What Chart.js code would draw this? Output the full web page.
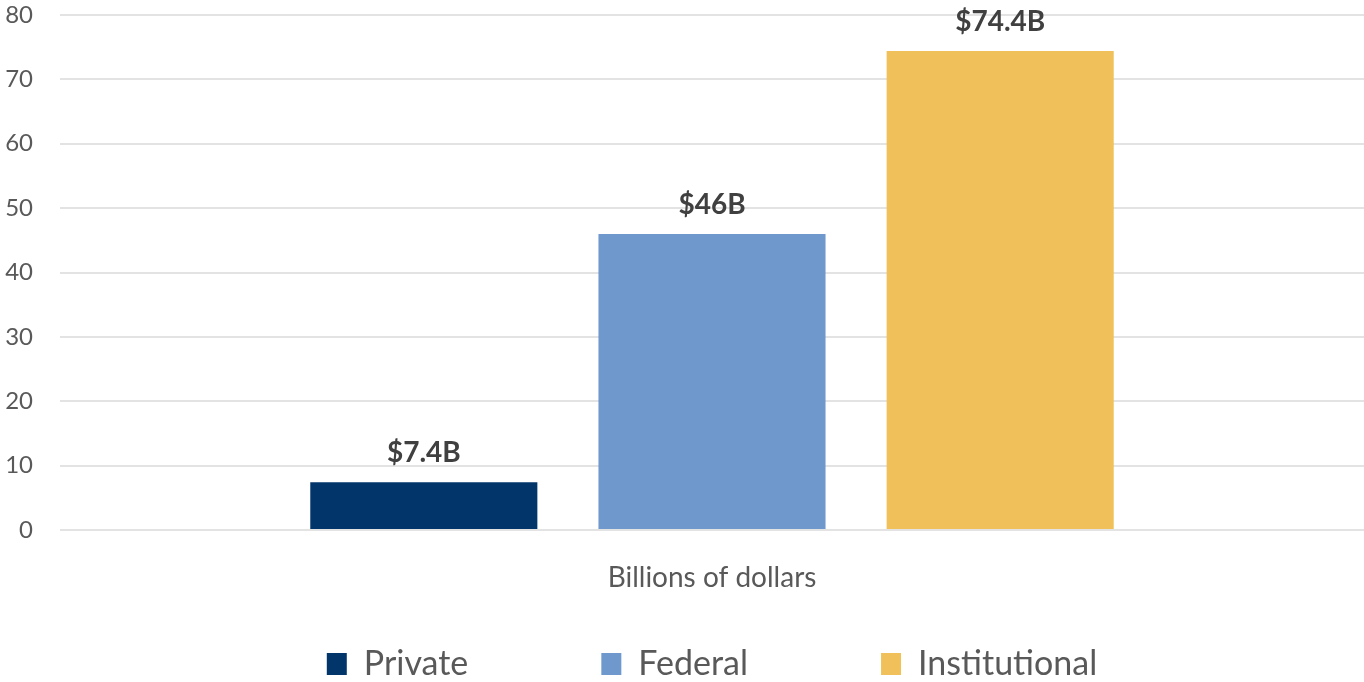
<!DOCTYPE html>
<html lang="en">
<head>
  <meta charset="UTF-8">
  <title>Billions of dollars</title>
  <script src="https://cdn.jsdelivr.net/npm/chart.js"></script>
  <style>
    html, body { margin: 0; padding: 0; background: #fff; }
    .wrap { width: 1364px; height: 682px; position: relative; }
  </style>
</head>
<body>
  <div class="wrap">
    <canvas id="fundingChart"></canvas>
  </div>
  <script>
    // chart data
    const categories = ['Billions of dollars'];
    const seriesNames = ['Private', 'Federal', 'Institutional'];
    const privateValues = [7.4];
    const federalValues = [46];
    const institutionalValues = [74.4];
    const valueLabels = ['$7.4B', '$46B', '$74.4B'];
    const yMin = 0, yMax = 80, yStep = 10;

    const seriesColors = ['#02366B', '#6F98CD', '#F0C15A'];

    // value labels above each bar
    const barLabels = {
      id: 'barLabels',
      afterDatasetsDraw(chart) {
        const ctx = chart.ctx;
        ctx.save();
        ctx.font = 'bold 28px Lato';
        ctx.fillStyle = '#404040';
        ctx.textAlign = 'center';
        ctx.textBaseline = 'bottom';
        chart.data.datasets.forEach((ds, i) => {
          const bar = chart.getDatasetMeta(i).data[0];
          ctx.fillText(valueLabels[i], bar.x, bar.y - 15);
        });
        ctx.restore();
      }
    };

    new Chart(document.getElementById('fundingChart'), {
      type: 'bar',
      data: {
        labels: categories,
        datasets: [
          { label: seriesNames[0], data: privateValues, backgroundColor: seriesColors[0] },
          { label: seriesNames[1], data: federalValues, backgroundColor: seriesColors[1] },
          { label: seriesNames[2], data: institutionalValues, backgroundColor: seriesColors[2] }
        ]
      },
      options: {
        responsive: true,
        maintainAspectRatio: false,
        animation: false,
        categoryPercentage: 0.663,
        barPercentage: 0.788,
        layout: { padding: { top: 15, right: 0, left: 0, bottom: -9 } },
        plugins: {
          tooltip: { enabled: false },
          legend: {
            position: 'bottom',
            fullSize: false,
            labels: {
              font: { family: 'Lato', size: 34 },
              color: '#595959',
              boxWidth: 20,
              boxHeight: 22,
              padding: 14,
              generateLabels(chart) {
                const items = Chart.defaults.plugins.legend.labels.generateLabels(chart);
                // widen the gap between legend entries
                items.forEach((it, i) => {
                  it.lineWidth = 0;
                  if (i < items.length - 1) it.text = it.text + '\u2002'.repeat(7);
                });
                return items;
              }
            }
          }
        },
        scales: {
          x: {
            grid: { display: false },
            border: { display: false },
            ticks: { font: { family: 'Lato', size: 28 }, color: '#595959', padding: 23 },
            afterFit(scale) { scale.height = 103; }
          },
          y: {
            min: yMin,
            max: yMax,
            border: { display: false },
            grid: { color: '#E3E3E3', lineWidth: 2, drawTicks: false },
            ticks: { stepSize: yStep, font: { family: 'Lato', size: 24 }, color: '#595959', padding: 27 },
            afterFit(scale) {
              scale.width = 60;
              scale.paddingTop = 0;
              scale.paddingBottom = 0;
            }
          }
        }
      },
      plugins: [barLabels]
    });
  </script>
</body>
</html>
